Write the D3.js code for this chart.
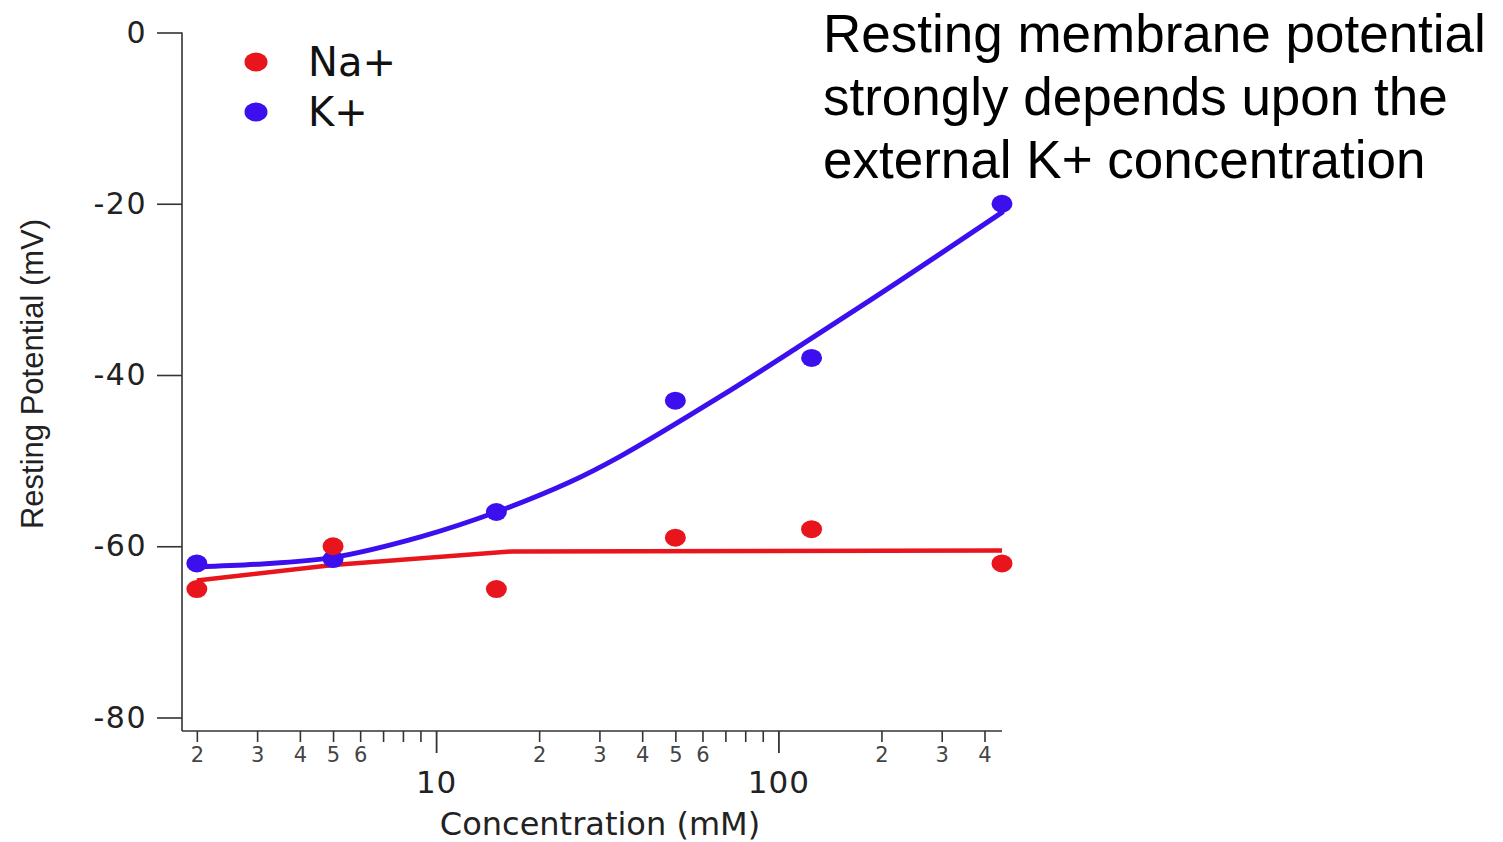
<!DOCTYPE html>
<html>
<head>
<meta charset="utf-8">
<script src="https://cdn.jsdelivr.net/npm/d3@7"></script>
<style>
  html, body { margin: 0; padding: 0; background: #fff; }
  svg { display: block; }
</style>
</head>
<body>
<svg id="chart" width="1503" height="842"></svg>
<script>
// ---------- data ----------
const concentrations = [2, 5, 15, 50, 125, 450];          // mM
const naValues = [-65, -60, -65, -59, -58, -62];           // mV
const kValues  = [-62, -61.5, -56, -43, -38, -20];         // mV

// fitted curves
const kFitX = [2, 3, 5, 9, 15, 24.6, 34.5, 67.7, 115.5, 226, 450];
const kFitY = [-62.4, -62.1, -61.3, -58.9, -56.0, -52.5, -49.5, -42.5, -36.6, -29.0, -21.0];
const naFitX = [2, 5, 16.7, 450];
const naFitY = [-64.0, -62.2, -60.6, -60.5];

const yTicks = [0, -20, -40, -60, -80];
const xMinorTicks = [2, 3, 4, 5, 6, 7, 8, 9, 20, 30, 40, 50, 60, 70, 80, 90, 200, 300, 400];
const xMinorLabels = {2: "2", 3: "3", 4: "4", 5: "5", 6: "6", 20: "2", 30: "3", 40: "4", 50: "5", 60: "6", 200: "2", 300: "3", 400: "4"};
const xMajorTicks = [10, 100];
const xMajorLabels = ["10", "100"];

const seriesNames = ["Na+", "K+"];
const annotationLines = ["Resting membrane potential", "strongly depends upon the", "external K+ concentration"];

// ---------- styling ----------
const RED = "#e8161c", BLUE = "#3c10ee";
const AXIS = "#333";
const geoFont = "'DejaVu Sans', Verdana, sans-serif";
const sansFont = "'Liberation Sans', Arial, sans-serif";

const svg = d3.select("#chart");

const x = d3.scaleLog().domain([1.81, 450]).range([182, 1002]);
const y = d3.scaleLinear().domain([0, -80]).range([32.5, 717.5]);
const axisY = 731;

// ---------- axes ----------
svg.append("line").attr("x1", 182).attr("x2", 182).attr("y1", y(0)).attr("y2", axisY)
  .attr("stroke", AXIS).attr("stroke-width", 1.6);
svg.append("line").attr("x1", 182).attr("x2", 1002).attr("y1", axisY).attr("y2", axisY)
  .attr("stroke", AXIS).attr("stroke-width", 1.6);

const yAxis = d3.axisLeft(y).tickValues(yTicks).tickSize(25).tickPadding(10).tickFormat(d => String(d));
const gy = svg.append("g").attr("transform", "translate(182,0)").call(yAxis);
gy.select(".domain").remove();
gy.selectAll(".tick line").attr("stroke", AXIS).attr("stroke-width", 1.6);
gy.selectAll(".tick text").attr("font-family", geoFont).attr("font-size", 30)
  .attr("fill", "#222").attr("letter-spacing", 1.5);

const xMinorAxis = d3.axisBottom(x).tickValues(xMinorTicks).tickSize(11).tickPadding(5)
  .tickFormat(d => xMinorLabels[d] || "");
const gxm = svg.append("g").attr("transform", `translate(0,${axisY})`).call(xMinorAxis);
gxm.select(".domain").remove();
gxm.selectAll(".tick line").attr("stroke", AXIS).attr("stroke-width", 1.6);
gxm.selectAll(".tick text").attr("font-family", geoFont).attr("font-size", 21).attr("fill", "#444");

const xMajorAxis = d3.axisBottom(x).tickValues(xMajorTicks).tickSize(22).tickPadding(18)
  .tickFormat((d, i) => xMajorLabels[i]);
const gxM = svg.append("g").attr("transform", `translate(0,${axisY})`).call(xMajorAxis);
gxM.select(".domain").remove();
gxM.selectAll(".tick line").attr("stroke", AXIS).attr("stroke-width", 1.8);
gxM.selectAll(".tick text").attr("font-family", geoFont).attr("font-size", 31).attr("fill", "#222")
  .attr("letter-spacing", 1);

// axis titles
svg.append("text").attr("x", 600).attr("y", 835).attr("text-anchor", "middle")
  .attr("font-family", geoFont).attr("font-size", 32).attr("fill", "#222")
  .text("Concentration (mM)");
svg.append("text").attr("transform", "translate(43,374) rotate(-90)").attr("text-anchor", "middle")
  .attr("font-family", sansFont).attr("font-size", 31).attr("fill", "#222")
  .text("Resting Potential (mV)");

// ---------- fit lines ----------
const kFit = kFitX.map((c, i) => [c, kFitY[i]]);
const naFit = naFitX.map((c, i) => [c, naFitY[i]]);

svg.append("path").datum(naFit)
  .attr("d", d3.line().x(d => x(d[0])).y(d => y(d[1])).curve(d3.curveLinear))
  .attr("fill", "none").attr("stroke", RED).attr("stroke-width", 4.5).attr("stroke-linejoin", "round");
svg.append("path").datum(kFit)
  .attr("d", d3.line().x(d => x(d[0])).y(d => y(d[1])).curve(d3.curveCatmullRom.alpha(0.5)))
  .attr("fill", "none").attr("stroke", BLUE).attr("stroke-width", 5).attr("stroke-linecap", "round");

// ---------- points ----------
svg.append("g").selectAll("ellipse.k").data(concentrations.map((c, i) => [c, kValues[i]]))
  .join("ellipse").attr("class", "k")
  .attr("cx", d => x(d[0])).attr("cy", d => y(d[1])).attr("rx", 10.5).attr("ry", 9).attr("fill", BLUE);
svg.append("g").selectAll("ellipse.na").data(concentrations.map((c, i) => [c, naValues[i]]))
  .join("ellipse").attr("class", "na")
  .attr("cx", d => x(d[0])).attr("cy", d => y(d[1])).attr("rx", 10.5).attr("ry", 9).attr("fill", RED);

// ---------- legend ----------
const legend = svg.append("g").attr("transform", "translate(256,62)");
seriesNames.forEach((name, i) => {
  const g = legend.append("g").attr("transform", `translate(0,${i * 50})`);
  g.append("ellipse").attr("rx", 11.5).attr("ry", 9.5).attr("fill", i === 0 ? RED : BLUE);
  g.append("text").attr("x", 52).attr("y", 14).attr("font-family", geoFont).attr("font-size", 40)
    .attr("fill", "#111").text(name);
});

// ---------- annotation ----------
const ann = svg.append("text").attr("font-family", sansFont).attr("font-size", 53).attr("fill", "#000");
annotationLines.forEach((line, i) => {
  ann.append("tspan").attr("x", 823).attr("y", 52 + i * 63).text(line);
});
</script>
</body>
</html>
